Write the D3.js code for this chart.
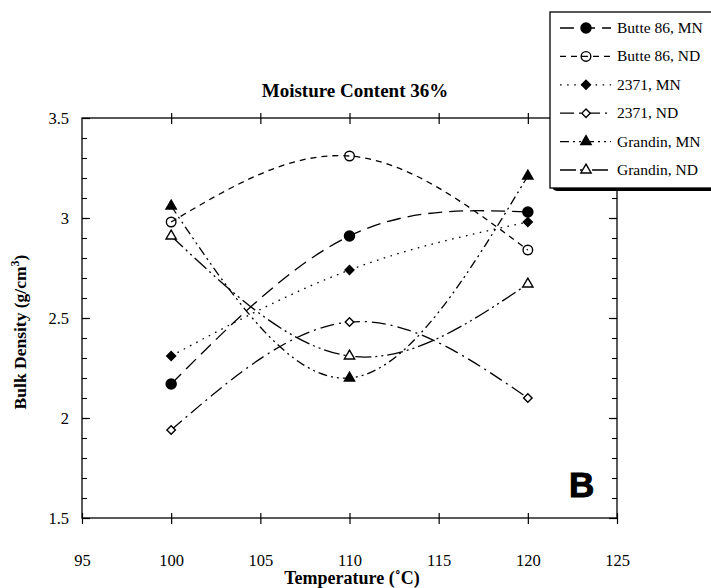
<!DOCTYPE html>
<html>
<head>
<meta charset="utf-8">
<script src="https://cdn.jsdelivr.net/npm/d3@7"></script>
<style>
  body { margin: 0; background: #fff; }
  svg text { font-family: "Liberation Serif", "DejaVu Serif", serif; fill: #000; }
</style>
</head>
<body>
<div id="chart"></div>
<script>
// values
const temps = [100, 110, 120];
const seriesNames = ["Butte 86, MN", "Butte 86, ND", "2371, MN", "2371, ND", "Grandin, MN", "Grandin, ND"];
const butte86MN = [2.17, 2.91, 3.03];
const butte86ND = [2.98, 3.31, 2.84];
const line2371MN = [2.31, 2.74, 2.98];
const line2371ND = [1.94, 2.48, 2.10];
const grandinMN = [3.06, 2.20, 3.21];
const grandinND = [2.91, 2.31, 2.67];
const xTicks = [95, 100, 105, 110, 115, 120, 125];
const yTicks = [1.5, 2, 2.5, 3, 3.5];

const width = 711, height = 588;
const x = d3.scaleLinear().domain([95, 125]).range([82, 617]);
const y = d3.scaleLinear().domain([1.5, 3.5]).range([518, 118]);

// styling per series (same order as seriesNames)
const styles = [
    { dash: "14,7", sym: d3.symbolCircle, size: 80, fill: "#000" },
    { dash: "6,5", sym: d3.symbolCircle, size: 72, fill: "none" },
    { dash: "1.6,5.5", sym: "diamond", size: 40, fill: "#000" },
    { dash: "14,5,2,5", sym: "diamond", size: 36, fill: "#fff" },
    { dash: "9,4,2,4,2,4", sym: d3.symbolTriangle, size: 46, fill: "#000" },
    { dash: "16,4,2,4,2,4", sym: d3.symbolTriangle, size: 46, fill: "#fff" }
];
const values = [butte86MN, butte86ND, line2371MN, line2371ND, grandinMN, grandinND];
const series = seriesNames.map((name, i) => ({
    name,
    style: styles[i],
    points: temps.map((t, j) => ({ t, v: values[i][j] }))
}));

const svg = d3.select("#chart").append("svg")
    .attr("width", width)
    .attr("height", height);

function marker(sel, st) {
    const isDiamond = st.sym === "diamond";
    sel.append("path")
        .attr("d", d3.symbol().type(isDiamond ? d3.symbolSquare : st.sym).size(st.size)())
        .attr("transform", isDiamond ? "rotate(45)" : null)
        .attr("fill", st.fill)
        .attr("stroke", "#000")
        .attr("stroke-width", 1.4);
}

// frame
svg.append("rect")
    .attr("x", x(95)).attr("y", y(3.5))
    .attr("width", x(125) - x(95)).attr("height", y(1.5) - y(3.5))
    .attr("fill", "none").attr("stroke", "#000").attr("stroke-width", 1.3);

// bottom axis
const gx = svg.append("g")
    .attr("transform", `translate(0,${y(1.5)})`)
    .call(d3.axisBottom(x).tickValues(xTicks).tickSize(0).tickSizeOuter(0).tickFormat(d3.format("d")));
gx.select(".domain").remove();
gx.selectAll(".tick line").attr("y1", -5).attr("y2", 6).attr("stroke-width", 1.2);
gx.selectAll(".tick text").attr("y", 36).attr("font-size", 16.5).attr("font-family", "Liberation Serif");

// top axis ticks
const gt = svg.append("g")
    .attr("transform", `translate(0,${y(3.5)})`)
    .call(d3.axisTop(x).tickValues([100, 105, 110, 115, 120]).tickSize(0).tickFormat(""));
gt.select(".domain").remove();
gt.selectAll(".tick line").attr("y1", -5).attr("y2", 6).attr("stroke-width", 1.2);

// left and right axes: minor + major inward ticks
const minorY = d3.range(16, 35).map(d => d / 10);
[["left", x(95)], ["right", x(125)]].forEach(([side, px]) => {
    const ax = side === "left" ? d3.axisLeft : d3.axisRight;
    const gm = svg.append("g").attr("transform", `translate(${px},0)`)
        .call(ax(y).tickValues(minorY).tickSize(-5).tickFormat(""));
    gm.select(".domain").remove();
    gm.selectAll(".tick line").attr("stroke-width", 1.1);
    const gM = svg.append("g").attr("transform", `translate(${px},0)`)
        .call(ax(y).tickValues(yTicks).tickSize(-8).tickSizeOuter(0)
            .tickFormat(side === "left" ? d3.format("") : ""));
    gM.select(".domain").remove();
    gM.selectAll(".tick line").attr("stroke-width", 1.2);
    gM.selectAll(".tick text").attr("x", -13).attr("font-size", 16.5).attr("font-family", "Liberation Serif");
});

// curves
const line = d3.line()
    .x(d => x(d.t))
    .y(d => y(d.v))
    .curve(d3.curveNatural);

svg.selectAll(".curve")
    .data(series)
    .join("path")
    .attr("class", "curve")
    .attr("d", d => line(d.points))
    .attr("fill", "none")
    .attr("stroke", "#000")
    .attr("stroke-width", 1.3)
    .attr("stroke-dasharray", d => d.style.dash);

// markers
series.forEach(s => {
    s.points.forEach(p => {
        const g = svg.append("g").attr("transform", `translate(${x(p.t)},${y(p.v)})`);
        marker(g, s.style);
    });
});

// titles
svg.append("text")
    .attr("x", 355).attr("y", 97)
    .attr("text-anchor", "middle")
    .attr("font-size", 19).attr("font-weight", "bold")
    .text("Moisture Content 36%");

svg.append("text")
    .attr("x", 352).attr("y", 584)
    .attr("text-anchor", "middle")
    .attr("font-size", 18).attr("font-weight", "bold")
    .text("Temperature (˚C)");

const yl = svg.append("text")
    .attr("transform", "translate(26,332) rotate(-90)")
    .attr("text-anchor", "middle")
    .attr("font-size", 17.5).attr("font-weight", "bold");
yl.append("tspan").text("Bulk Density (g/cm");
yl.append("tspan").attr("dy", -7).attr("font-size", 12).text("3");
yl.append("tspan").attr("dy", 7).text(")");

svg.append("text")
    .attr("x", 569).attr("y", 497)
    .style("font-family", "'Liberation Sans', Arial, sans-serif")
    .attr("font-size", 35).attr("font-weight", "bold")
    .attr("stroke", "#000").attr("stroke-width", 1)
    .text("B");

// legend
const lg = svg.append("g");
lg.append("rect")
    .attr("x", 552).attr("y", 15).attr("width", 200).attr("height", 176)
    .attr("rx", 5).attr("fill", "#000");
lg.append("rect")
    .attr("x", 550).attr("y", 12).attr("width", 200).attr("height", 176)
    .attr("fill", "#fff").attr("stroke", "#000").attr("stroke-width", 1.3);

const rowY = d3.scaleLinear().domain([0, 5]).range([28, 170]);
series.forEach((s, i) => {
    const ry = rowY(i);
    lg.append("line")
        .attr("x1", 560).attr("x2", 611)
        .attr("y1", ry).attr("y2", ry)
        .attr("stroke", "#000").attr("stroke-width", 1.3)
        .attr("stroke-dasharray", s.style.dash);
    const g = lg.append("g").attr("transform", `translate(586,${ry})`);
    marker(g, s.style);
    lg.append("text")
        .attr("x", 617).attr("y", ry + 5)
        .attr("font-size", 15.5)
        .text(s.name);
});
</script>
</body>
</html>
